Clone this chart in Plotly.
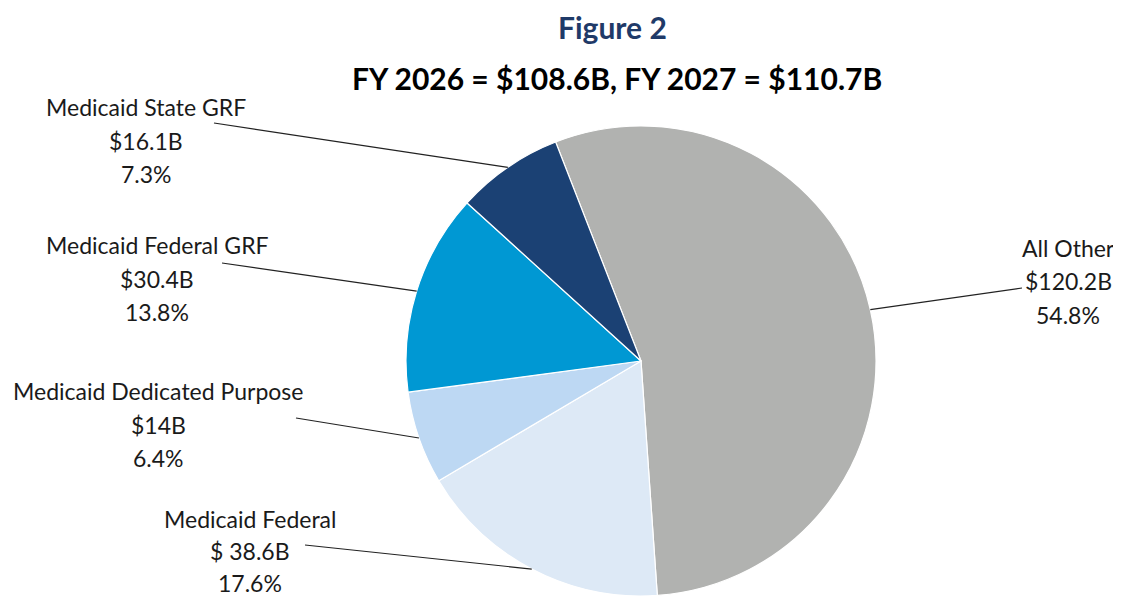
import math
import plotly.graph_objects as go

# ---- data ----
categories = ["All Other", "Medicaid Federal", "Medicaid Dedicated Purpose",
              "Medicaid Federal GRF", "Medicaid State GRF"]
values_b = [120.2, 38.6, 14.0, 30.4, 16.1]
value_labels = ["$120.2B", "$ 38.6B", "$14B", "$30.4B", "$16.1B"]
pct_labels = ["54.8%", "17.6%", "6.4%", "13.8%", "7.3%"]
colors = ["#B1B2B0", "#DDE9F6", "#BDD8F3", "#0098D3", "#1B4174"]

title_text = "Figure 2"
subtitle_text = "FY 2026 = $108.6B, FY 2027 = $110.7B"

# ---- layout constants (page pixels) ----
OFF = 8                      # default body margin of the html page
W, H = 1121 - OFF, 596 - OFF  # figure size
CX, CY, R = 641, 361, 235
ROT = -21.3  # start angle of first slice, degrees clockwise from 12 o'clock
FONT = "Lato"
LABEL_SIZE = 23
# label block: (center x, first line y, line gap, leader-line anchor x, anchor y)
label_pos = {
    "All Other": (1068, 248, 33.5, 1022, 288),
    "Medicaid Federal": (250, 519, 32.0, 305, 545),
    "Medicaid Dedicated Purpose": (158, 391, 33.5, 296, 418),
    "Medicaid Federal GRF": (157, 245, 33.5, 222, 263),
    "Medicaid State GRF": (146, 107, 33.5, 214, 123),
}


def px(x):
    return (x - OFF) / W


def py(y):
    return 1 - (y - OFF) / H


fig = go.Figure()
fig.add_trace(go.Pie(
    labels=categories, values=values_b, sort=False, direction="clockwise",
    rotation=ROT, textinfo="none", hoverinfo="label+value",
    marker=dict(colors=colors, line=dict(color="white", width=1.2)),
    domain=dict(x=[px(CX - R), px(CX + R)], y=[max(0, py(CY + R)), py(CY - R)]),
    showlegend=False,
))

annotations = []
shapes = []
total = sum(values_b)
cum = 0.0
for cat, v, vl, pl in zip(categories, values_b, value_labels, pct_labels):
    mid = ROT + 360 * (cum + v / 2) / total
    cum += v
    a = math.radians(mid)
    ex, ey = CX + R * math.sin(a), CY - R * math.cos(a)
    lx, ly, gap, ax, ay = label_pos[cat]
    shapes.append(dict(type="line", xref="paper", yref="paper",
                       x0=px(ax), y0=py(ay), x1=px(ex), y1=py(ey),
                       line=dict(color="#222222", width=1.2)))
    for i, t in enumerate([cat, vl, pl]):
        annotations.append(dict(text=t, x=px(lx), y=py(ly + i * gap),
                                xref="paper", yref="paper", showarrow=False,
                                xanchor="center", yanchor="middle",
                                font=dict(family=FONT, size=LABEL_SIZE, color="#1a1a1a")))

annotations.append(dict(text="<b>%s</b>" % title_text, x=px(612), y=py(27),
                        xref="paper", yref="paper", showarrow=False,
                        xanchor="center", yanchor="middle",
                        font=dict(family=FONT, size=30, color="#1F3A68")))
annotations.append(dict(text="<b>%s</b>" % subtitle_text, x=px(617), y=py(78),
                        xref="paper", yref="paper", showarrow=False,
                        xanchor="center", yanchor="middle",
                        font=dict(family=FONT, size=30, color="#000000")))

fig.update_layout(width=W, height=H, margin=dict(l=0, r=0, t=0, b=0),
                  paper_bgcolor="white", plot_bgcolor="white",
                  annotations=annotations, shapes=shapes)

fig.write_html("out.html")
